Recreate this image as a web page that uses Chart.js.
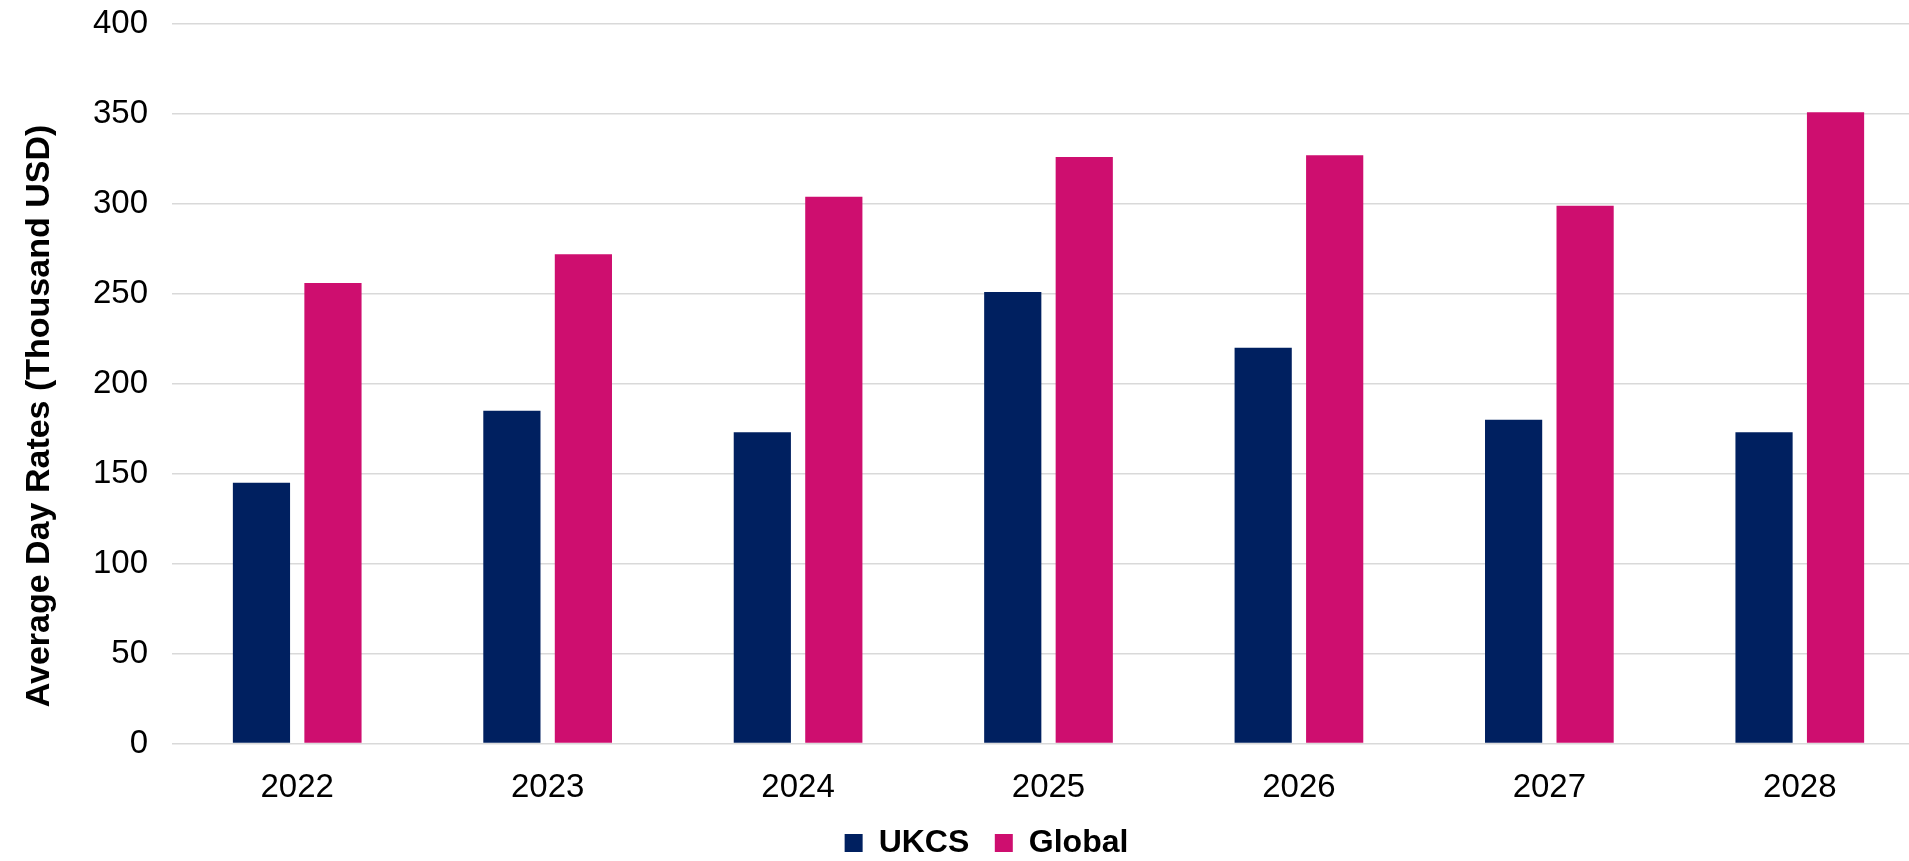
<!DOCTYPE html>
<html>
<head>
<meta charset="utf-8">
<script src="https://cdn.jsdelivr.net/npm/chart.js@4"></script>
<style>
  html, body { margin: 0; padding: 0; overflow: hidden; background: #fff; }
  #wrap { width: 1973px; height: 869px; position: relative; }
</style>
</head>
<body>
<div id="wrap"><canvas id="dayRates"></canvas></div>
<script>
// values (thousand USD)
const years = ["2022", "2023", "2024", "2025", "2026", "2027", "2028"];
const ukcs = [145, 185, 173, 251, 220, 180, 173];
const global = [256, 272, 304, 326, 327, 299, 351];
const yTitle = "Average Day Rates (Thousand USD)";

const FONT = "'Liberation Sans', Arial, sans-serif";

// y title drawn by hand so it can sit a bit below the axis centre like the original
const yTitlePlugin = {
  id: "yTitle",
  afterDraw(chart) {
    const ctx = chart.ctx;
    ctx.save();
    ctx.translate(40, 416);
    ctx.rotate(-Math.PI / 2);
    ctx.font = "bold 34px " + FONT;
    ctx.fillStyle = "#000";
    ctx.textAlign = "center";
    ctx.textBaseline = "middle";
    ctx.fillText(yTitle, 0, 0);
    ctx.restore();
  }
};

new Chart(document.getElementById("dayRates"), {
  type: "bar",
  data: {
    labels: years,
    datasets: [
      { label: "UKCS", data: ukcs, backgroundColor: "#002060" },
      { label: "Global", data: global, backgroundColor: "#CE0E6F" }
    ]
  },
  options: {
    responsive: true,
    maintainAspectRatio: false,
    animation: false,
    datasets: {
      bar: { categoryPercentage: 0.571, barPercentage: 0.8 }
    },
    // plot runs a little past the right edge of the window, as in the original
    layout: { padding: { top: 0, right: 48, left: 48, bottom: 0 } },
    plugins: {
      tooltip: { enabled: false },
      legend: {
        position: "bottom",
        labels: {
          boxWidth: 18,
          boxHeight: 18,
          padding: 25.5,
          color: "#000",
          font: { family: FONT, size: 32, weight: "bold" }
        }
      }
    },
    scales: {
      x: {
        grid: { display: false },
        border: { display: false },
        ticks: { color: "#000", padding: 16.5, font: { family: FONT, size: 33 } },
        afterFit(scale) { scale.height = 58; }
      },
      y: {
        min: 0,
        max: 400,
        // lineHeight 0 so the top label doesn't push the plot down much
        ticks: { stepSize: 50, color: "#000", padding: 24, font: { family: FONT, size: 33, lineHeight: 0 } },
        grid: { color: "#d9d9d9", lineWidth: 1.5, drawTicks: false },
        border: { display: false },
        afterFit(scale) { scale.width = 124; }
      }
    }
  },
  plugins: [yTitlePlugin]
});
</script>
</body>
</html>
